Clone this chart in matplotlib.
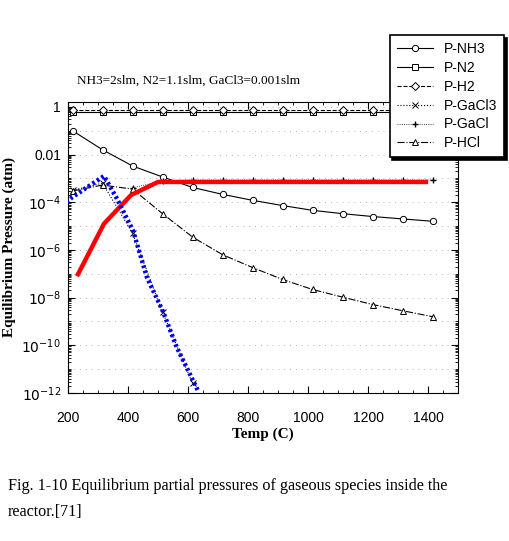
import numpy as np
import matplotlib
matplotlib.use('Agg')
import matplotlib.pyplot as plt

# temperatures of the computed points (C)
temp = [215, 315, 415, 515, 615, 715, 815, 915, 1015, 1115, 1215, 1315, 1415]

# log10 of the partial pressures (atm)
log_nh3 = [-1.0, -1.8, -2.48, -2.94, -3.38, -3.67, -3.92, -4.14, -4.34, -4.48, -4.6, -4.7, -4.8]
log_n2 = [-0.23, -0.23, -0.23, -0.23, -0.23, -0.23, -0.23, -0.23, -0.23, -0.23, -0.23, -0.23, -0.23]
log_h2 = [-0.12, -0.12, -0.12, -0.12, -0.12, -0.12, -0.12, -0.12, -0.12, -0.12, -0.12, -0.12, -0.12]
log_hcl = [-3.53, -3.28, -3.45, -4.48, -5.46, -6.2, -6.74, -7.24, -7.66, -7.98, -8.29, -8.55, -8.8]

temp_gacl3 = [215, 315, 415, 515, 615]
log_gacl3 = [-3.5, -3.2, -5.3, -8.6, -11.6]

temp_gacl = [415, 515, 615, 715, 815, 915, 1015, 1115, 1215, 1315, 1415]
log_gacl = [-3.4, -3.1, -3.07, -3.07, -3.07, -3.07, -3.07, -3.07, -3.07, -3.07, -3.07]

# hand-drawn overlays
temp_red = [230, 320, 410, 500, 1400]
log_red = [-7.1, -4.9, -3.7, -3.15, -3.15]

temp_blue = [195, 213, 320, 363, 417, 463, 517, 563, 633]
log_blue = [-4.0, -3.8, -2.9, -3.85, -5.2, -7.15, -8.6, -10.1, -11.9]

p = lambda v: 10.0 ** np.array(v)

fig = plt.figure(figsize=(5.09, 5.41), dpi=100)
ax = fig.add_axes([0.1336, 0.2736, 0.7664, 0.5379])

k = dict(color='black', lw=0.8, ms=4.5, mfc='white', mew=0.7)
ax.plot(temp, p(log_nh3), '-', marker='o', label='P-NH3', **k)
ax.plot(temp, p(log_n2), '-', marker='s', label='P-N2', **k)
ax.plot(temp, p(log_h2), '--', marker='D', label='P-H2', **k)
ax.plot(temp_gacl3, p(log_gacl3), ':', marker='x', label='P-GaCl3', **k)
ax.plot(temp_gacl, p(log_gacl), ':', marker='+', label='P-GaCl', color='black', lw=0.6, ms=5)
ax.plot(temp, p(log_hcl), '-.', marker='^', label='P-HCl', **k)

ax.plot(temp_red, p(log_red), color='#ff0000', lw=3.2, solid_capstyle='butt', zorder=5)
ax.plot(temp_blue, p(log_blue), color='#0000ee', lw=3.2, ls=(0, (0.6, 0.6)), zorder=5)

ax.set_yscale('log')
ax.set_xlim(200, 1500)
ax.set_ylim(1e-12, 1.6)
yt = [1, 1e-2, 1e-4, 1e-6, 1e-8, 1e-10, 1e-12]
ax.yaxis.set_minor_locator(matplotlib.ticker.LogLocator(base=10, subs=np.arange(1, 10), numticks=30))
ax.yaxis.set_minor_formatter(matplotlib.ticker.NullFormatter())
ax.set_yticks(yt)
ax.set_yticklabels(['1', '0.01', '$10^{-4}$', '$10^{-6}$', '$10^{-8}$', '$10^{-10}$', '$10^{-12}$'])
ax.set_xticks([200, 400, 600, 800, 1000, 1200, 1400])
ax.set_xticks(np.arange(200, 1501, 50), minor=True)
ax.tick_params(which='both', direction='in', top=True, right=True, labelsize=10)
ax.tick_params(which='major', length=5)
ax.tick_params(which='minor', length=2.5)
ax.tick_params(axis='x', which='major', pad=13)
ax.tick_params(axis='y', which='major', pad=5)
for lab in ax.get_xticklabels() + ax.get_yticklabels():
    lab.set_family('Liberation Sans')
for d in range(-11, 1):
    ax.axhline(10.0 ** d, color='#999999', lw=0.6, ls=(0, (1, 6)), zorder=0)

ax.set_xlabel('Temp (C)', family='Liberation Serif', fontsize=11, fontweight='bold', labelpad=2)
ax.set_ylabel('Equilibrium Pressure (atm)', family='Liberation Serif', fontsize=11, fontweight='bold', labelpad=4)
fig.text(0.151, 0.846, 'NH3=2slm, N2=1.1slm, GaCl3=0.001slm', family='Liberation Serif', fontsize=9.5)

leg = fig.legend(loc='upper left', bbox_to_anchor=(0.752, 0.948), frameon=True, fancybox=False,
                 shadow={'color': 'black', 'alpha': 1}, edgecolor='black',
                 prop={'family': 'Liberation Sans', 'size': 10}, handlelength=2.6,
                 labelspacing=0.35, borderpad=0.5, handletextpad=0.8)
leg.get_frame().set_linewidth(1.2)

fig.text(0.016, 0.095, 'Fig. 1-10 Equilibrium partial pressures of gaseous species inside the',
         family='Liberation Serif', fontsize=11.6)
fig.text(0.016, 0.046, 'reactor.[71]', family='Liberation Serif', fontsize=11.6)

fig.savefig('out.png', dpi=100)
